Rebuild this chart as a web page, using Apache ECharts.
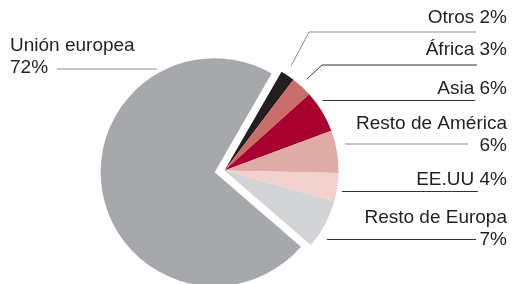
<!DOCTYPE html>
<html><head><meta charset="utf-8">
<script src="https://cdn.jsdelivr.net/npm/echarts@6/dist/echarts.min.js"></script>
<style>html,body{margin:0;padding:0;background:#fff}#c{width:515px;height:284px}</style>
</head><body><div id="c"></div>
<script>
// Data
const categories = ['Otros', 'África', 'Asia', 'Resto de América', 'EE.UU', 'Resto de Europa', 'Unión europea'];
const values = [2, 3, 6, 6, 4, 7, 72];
const colors = ['#231f20', '#c96e6b', '#a8002f', '#e0aaa6', '#f1d0ce', '#d1d3d4', '#a7a8ab'];
const explodedCategory = 'Unión europea';

// Label annotation layout (positions / styles only)
const labelLayouts = [
  { x: 507, y: 18,  align: 'right', brk: false, lc: '#8c8c8c', pts: [[291, 66], [309, 32], [476, 32]] },
  { x: 507, y: 50,  align: 'right', brk: false, lc: '#333333', pts: [[307, 79], [322, 65], [477, 65]] },
  { x: 507, y: 89,  align: 'right', brk: false, lc: '#333333', pts: [[323, 100.5], [400, 100.5], [475, 100.5]] },
  { x: 507, y: 135, align: 'right', brk: true,  lc: '#8c8c8c', pts: [[345, 144], [400, 144], [468, 144]] },
  { x: 507, y: 180, align: 'right', brk: false, lc: '#333333', pts: [[342, 191.5], [400, 191.5], [478, 191.5]] },
  { x: 507, y: 229, align: 'right', brk: true,  lc: '#333333', pts: [[327, 239.5], [400, 239.5], [476, 239.5]] },
  { x: 10,  y: 57,  align: 'left',  brk: true,  lc: '#8c8c8c', pts: [[57, 69], [100, 69], [157, 69]] }
];

const chart = echarts.init(document.getElementById('c'), null, { renderer: 'canvas' });

const common = {
  type: 'pie',
  center: [224.5, 170.5],
  radius: [0, 114],
  startAngle: 60,
  clockwise: true,
  avoidLabelOverlap: false,
  emphasis: { disabled: true }
};

chart.setOption({
  animation: false,
  series: [
    Object.assign({}, common, {
      name: 'sectors',
      z: 2,
      selectedMode: 'single',
      selectedOffset: 10,
      itemStyle: { borderWidth: 0 },
      label: { show: false },
      labelLine: { show: false },
      data: categories.map((name, i) => ({
        name: name,
        value: values[i],
        selected: name === explodedCategory,
        itemStyle: { color: colors[i] }
      }))
    }),
    Object.assign({}, common, {
      name: 'labels',
      z: 1,
      silent: true,
      selectedMode: false,
      itemStyle: { color: 'rgba(0,0,0,0)', borderWidth: 0 },
      label: {
        show: true,
        position: 'outside',
        fontFamily: 'Liberation Sans, Arial, sans-serif',
        fontSize: 19,
        lineHeight: 22,
        color: '#231f20',
        formatter: p => p.name + (labelLayouts[p.dataIndex].brk ? '\n' : ' ') + p.value + '%'
      },
      labelLine: { show: true, length: 10, length2: 10, smooth: false },
      labelLayout: params => {
        const l = labelLayouts[params.dataIndex];
        return {
          x: l.x, y: l.y, align: l.align, verticalAlign: 'middle',
          labelLinePoints: l.pts
        };
      },
      data: categories.map((name, i) => ({
        name: name,
        value: values[i],
        labelLine: { lineStyle: { color: labelLayouts[i].lc, width: 1 } }
      }))
    })
  ]
});
</script>
</body></html>
